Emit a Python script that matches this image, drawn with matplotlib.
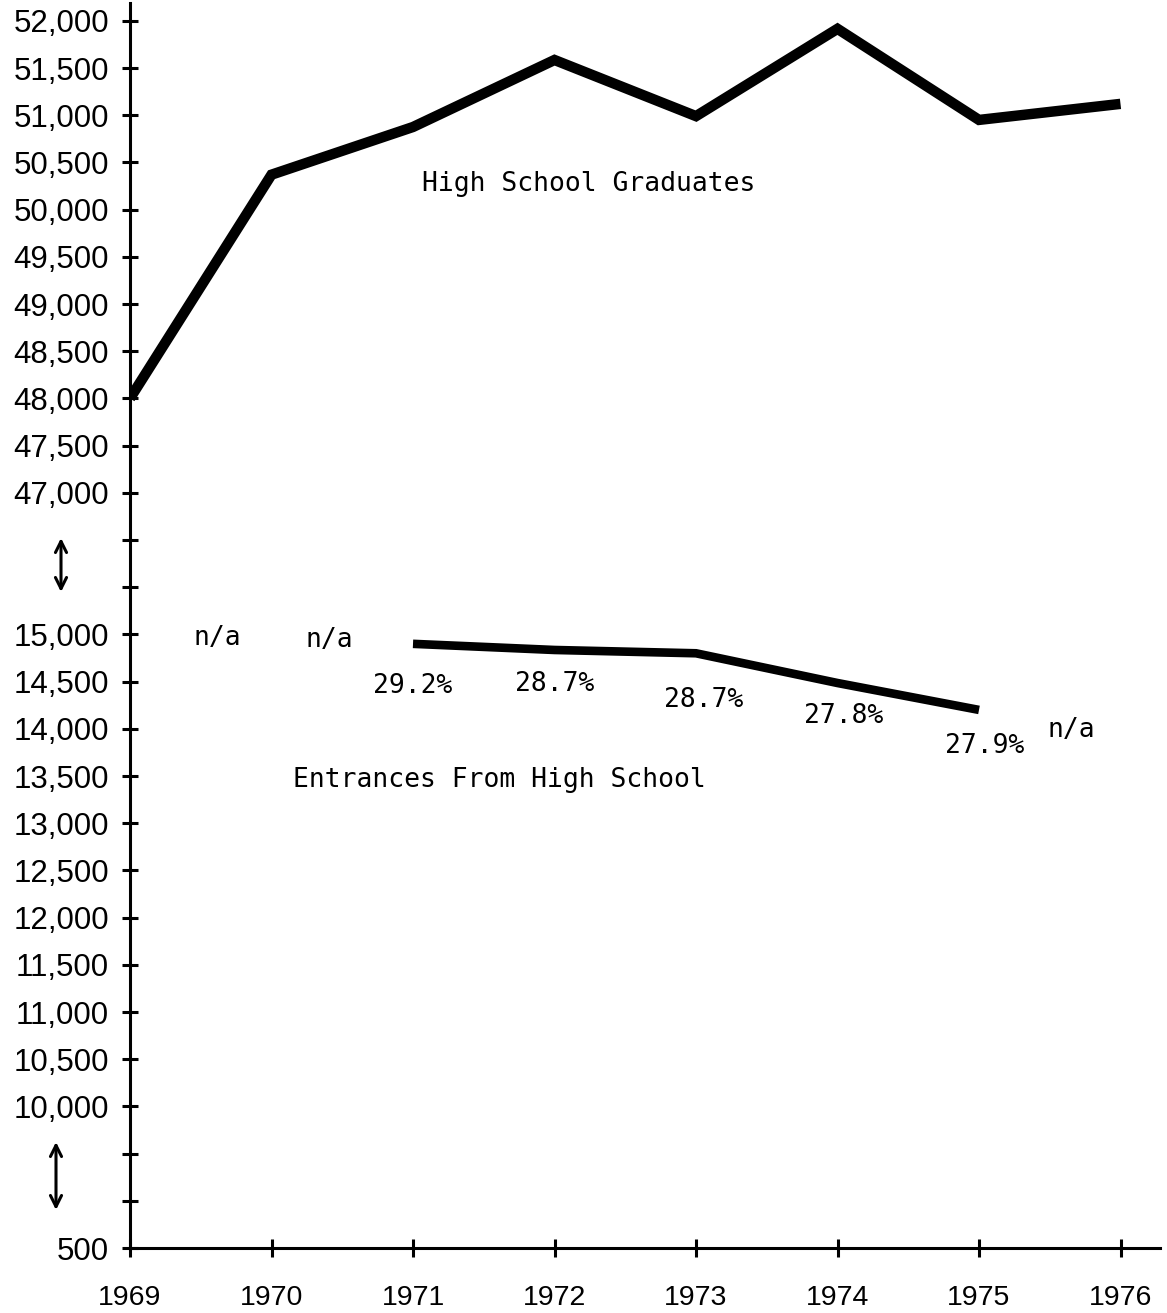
import numpy as np
import matplotlib
matplotlib.use("Agg")
import matplotlib.pyplot as plt

# ---------------- data ----------------
years = [1969, 1970, 1971, 1972, 1973, 1974, 1975, 1976]
hs_graduates = [48000, 50370, 50875, 51585, 50990, 51915, 50950, 51120]

entr_years = [1971, 1972, 1973, 1974, 1975]
entrances = [14900, 14835, 14800, 14485, 14200]
entr_pct = ["29.2%", "28.7%", "28.7%", "27.8%", "27.9%"]

na_years = [1969.62, 1970.41, 1975.65]
na_values = [14960, 14940, 13990]
na_text = ["n/a", "n/a", "n/a"]

ytick_values = [500, 10000, 10500, 11000, 11500, 12000, 12500, 13000, 13500,
                14000, 14500, 15000, 47000, 47500, 48000, 48500, 49000, 49500,
                50000, 50500, 51000, 51500, 52000]

# ---------------- broken (piecewise) y scale ----------------
# slot units: 500 ->0, 10000->3, 15000->13, 47000->16, then 500 per slot
def fwd(v):
    v = np.asarray(v, dtype=float)
    return np.piecewise(
        v,
        [v <= 10000, (v > 10000) & (v <= 15000), (v > 15000) & (v <= 47000), v > 47000],
        [lambda x: (x - 500) * 3.0 / 9500.0,
         lambda x: 3 + (x - 10000) / 500.0,
         lambda x: 13 + (x - 15000) * 3.0 / 32000.0,
         lambda x: 16 + (x - 47000) / 500.0])

def inv(s):
    s = np.asarray(s, dtype=float)
    return np.piecewise(
        s,
        [s <= 3, (s > 3) & (s <= 13), (s > 13) & (s <= 16), s > 16],
        [lambda x: 500 + x * 9500.0 / 3.0,
         lambda x: 10000 + (x - 3) * 500.0,
         lambda x: 15000 + (x - 13) * 32000.0 / 3.0,
         lambda x: 47000 + (x - 16) * 500.0])

fig = plt.figure(figsize=(11.67, 13.13), dpi=100)
ax = fig.add_axes([130 / 1167, 1 - 1248 / 1313, 1030 / 1167, (1248 - 3) / 1313])
ax.set_yscale("function", functions=(fwd, inv))

ax.plot(years, hs_graduates, color="black", lw=7.5, solid_joinstyle="miter",
        solid_capstyle="butt")
ax.plot(entr_years, entrances, color="black", lw=6.2, solid_joinstyle="miter",
        solid_capstyle="butt")

mono = "DejaVu Sans Mono"
offsets_px = [(0, -42), (0, -34), (8, -47), (6, -33), (6, -36)]
for x, y, t, (dx, dy) in zip(entr_years, entrances, entr_pct, offsets_px):
    ax.annotate(t, xy=(x, y), xytext=(dx * 0.72, dy * 0.72), textcoords="offset points",
                ha="center", va="center", fontsize=19, family=mono)

for x, y, t in zip(na_years, na_values, na_text):
    ax.text(x, y, t, ha="center", va="center", fontsize=19, family=mono)

ax.text(1972.24, 50271, "High School Graduates", ha="center", va="center",
        fontsize=19, family=mono)
ax.text(1971.61, 13458, "Entrances From High School", ha="center", va="center",
        fontsize=19, family=mono)

# ticks
blank_slots = [1, 2, 14, 15]
all_ticks = list(ytick_values) + [float(inv(s)) for s in blank_slots]
labels = [f"{v:,}" for v in ytick_values] + [""] * len(blank_slots)
order = np.argsort(all_ticks)
ax.set_yticks([all_ticks[i] for i in order])
ax.set_yticklabels([labels[i] for i in order])
ax.yaxis.set_minor_locator(matplotlib.ticker.NullLocator())

ax.set_xticks(years)
ax.set_xticklabels([str(y) for y in years])

ax.set_xlim(1969, 1969 + (1160 - 130) / 141.5)
ax.set_ylim(500, float(inv((1248 - 3) / 47.2)))

for side in ["top", "right"]:
    ax.spines[side].set_visible(False)
for side in ["left", "bottom"]:
    ax.spines[side].set_linewidth(2.2)

ax.tick_params(axis="y", direction="inout", length=12, width=2.2, pad=9,
               labelsize=22.5, labelfontfamily="Liberation Sans")
ax.tick_params(axis="x", direction="inout", length=13, width=2.2, pad=20,
               labelsize=20.5, labelfontfamily="Liberation Sans")

# break arrows
for x, y1, y2 in [(61 / 1167, 1 - 538 / 1313, 1 - 592 / 1313),
                  (56 / 1167, 1 - 1142 / 1313, 1 - 1210 / 1313)]:
    fig.add_artist(matplotlib.patches.FancyArrowPatch(
        (x, y2), (x, y1), transform=fig.transFigure, arrowstyle="<->",
        mutation_scale=20, lw=2.2, color="black", shrinkA=0, shrinkB=0))

fig.savefig("out.png", dpi=100, facecolor="white")
